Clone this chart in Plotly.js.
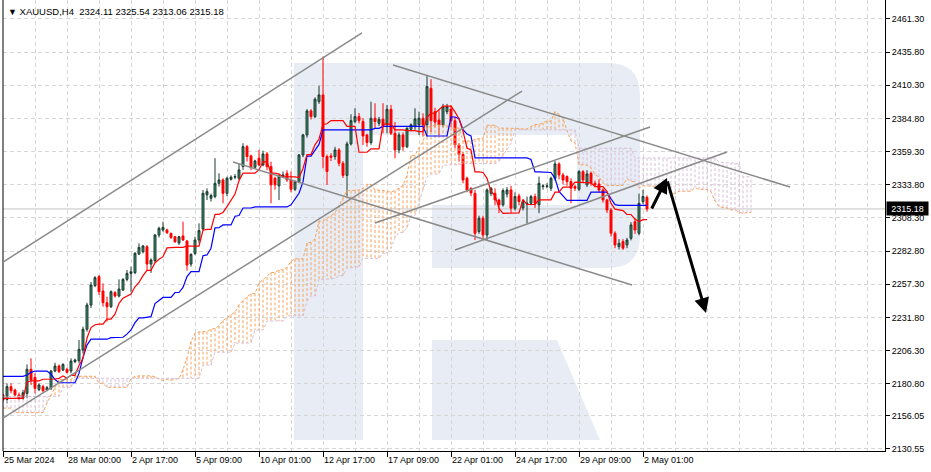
<!DOCTYPE html>
<html><head><meta charset="utf-8">
<script src="https://cdn.plot.ly/plotly-3.0.1.min.js"></script>
<style>body{margin:0;background:#fff}</style>
</head><body>
<div id="chart" style="width:931px;height:472px"></div>
<script>
// ---------------- DATA ----------------
const symbol = "XAUUSD,H4";
const xTickIdx = [0,16,32,48,64,80,96,112,128,144,160];
const xTickLabels = ["25 Mar 2024","28 Mar 00:00","2 Apr 17:00","5 Apr 09:00","10 Apr 01:00","12 Apr 17:00","17 Apr 09:00","22 Apr 01:00","24 Apr 17:00","29 Apr 09:00","2 May 01:00"];
const yTickVals = [2461.30,2435.80,2410.30,2384.80,2359.30,2333.80,2308.30,2282.80,2257.30,2231.80,2206.30,2180.80,2156.05,2130.55];
const yTickLabels = ["2461.30","2435.80","2410.30","2384.80","2359.30","2333.80","2308.30","2282.80","2257.30","2231.80","2206.30","2180.80","2156.05","2130.55"];

const openP = [
2172.1,2168.7,2178.5,2175.9,2172.1,2169.5,2173.3,2191.8,2185.6,2176.4,
2178.5,2175.9,2177.2,2190.5,2194.4,2191.3,2191.8,2190.5,2197.7,2198.5,
2206.7,2222.6,2241.3,2256.2,2263.1,2252.1,2243.1,2240.0,2250.8,2248.2,
2252.8,2261.0,2265.6,2266.2,2280.5,2282.3,2286.1,2272.8,2275.4,2295.1,
2299.0,2299.0,2296.4,2293.8,2289.0,2294.4,2290.5,2272.8,2281.0,2291.3,
2299.8,2326.0,2323.4,2324.7,2334.9,2337.5,2327.2,2338.0,2339.6,2338.8,
2347.8,2363.1,2356.0,2347.2,2354.2,2349.0,2357.5,2347.8,2338.8,2332.9,
2340.1,2342.6,2337.5,2330.3,2336.2,2356.7,2372.1,2390.6,2386.2,2397.8,
2402.9,2355.5,2356.0,2355.5,2360.6,2350.3,2341.0,2365.2,2382.4,2386.2,
2382.4,2372.1,2366.2,2384.9,2381.1,2384.2,2379.8,2391.8,2373.4,2360.6,
2372.1,2363.0,2376.5,2378.5,2380.0,2384.9,2380.0,2408.0,2390.0,2383.6,
2379.8,2390.0,2392.0,2383.0,2364.4,2357.0,2338.8,2331.0,2327.2,2297.8,
2308.0,2295.2,2327.2,2327.2,2322.1,2318.3,2326.7,2329.8,2315.7,2325.2,
2316.0,2319.0,2319.5,2324.7,2318.3,2332.4,2332.4,2331.1,2338.8,2349.8,
2341.3,2340.1,2336.2,2332.4,2330.3,2343.9,2333.7,2342.6,2334.9,2334.4,
2329.8,2322.1,2314.4,2296.5,2286.2,2290.1,2287.5,2292.6,2305.4,2296.5,
2320.8,2324.11];
const highP = [
2173.0,2181.0,2181.0,2177.0,2174.0,2176.0,2195.6,2200.3,2188.7,2181.0,
2180.0,2179.0,2191.3,2196.9,2195.5,2196.5,2193.0,2200.3,2200.0,2214.4,
2224.6,2243.0,2259.0,2263.5,2264.4,2257.9,2247.7,2252.5,2252.0,2261.0,
2262.0,2268.2,2270.8,2282.0,2288.7,2287.5,2287.4,2277.2,2296.0,2301.5,
2305.4,2300.0,2297.0,2294.5,2294.5,2305.4,2291.3,2281.0,2293.8,2304.1,
2329.8,2331.0,2327.0,2354.2,2342.6,2338.8,2340.0,2341.0,2342.0,2350.3,
2365.7,2364.4,2357.0,2353.0,2360.6,2360.0,2359.0,2351.6,2340.0,2342.0,
2344.0,2345.0,2344.0,2337.0,2357.5,2373.0,2392.0,2392.0,2401.0,2410.0,
2432.4,2357.0,2358.0,2363.0,2362.0,2352.0,2367.0,2388.0,2392.6,2389.0,
2385.0,2373.0,2397.7,2396.5,2386.0,2396.5,2395.2,2395.2,2382.0,2374.0,
2374.0,2378.0,2381.0,2392.6,2390.0,2388.8,2417.5,2415.0,2393.0,2391.0,
2396.0,2396.0,2395.0,2386.0,2366.0,2359.0,2340.0,2332.0,2329.8,2310.0,
2310.0,2331.0,2332.0,2331.0,2323.0,2331.0,2332.0,2333.0,2328.0,2327.0,
2322.0,2324.7,2326.0,2327.0,2340.1,2334.0,2335.0,2340.0,2352.0,2351.0,
2343.0,2341.0,2338.8,2334.0,2345.0,2345.0,2345.0,2344.0,2337.0,2338.0,
2331.0,2323.0,2316.0,2298.0,2292.0,2292.0,2293.0,2305.0,2308.0,2327.0,
2330.0,2325.54];
const lowP = [
2167.0,2165.6,2173.3,2171.0,2168.0,2168.5,2169.5,2179.8,2173.3,2175.0,
2174.0,2175.0,2175.9,2189.5,2189.0,2190.5,2188.7,2188.7,2196.5,2196.4,
2204.1,2220.8,2239.0,2255.0,2249.0,2240.0,2228.5,2239.0,2247.0,2247.2,
2252.0,2259.5,2251.5,2265.0,2279.7,2281.0,2268.0,2266.0,2274.0,2293.3,
2297.7,2296.0,2292.0,2289.0,2287.5,2290.5,2267.7,2270.8,2279.7,2288.7,
2299.0,2322.0,2320.8,2323.4,2332.4,2319.6,2325.0,2337.0,2338.0,2337.5,
2345.2,2351.6,2345.0,2346.0,2348.0,2348.0,2345.0,2319.6,2330.0,2322.0,
2339.0,2336.0,2328.0,2329.0,2335.0,2355.0,2370.0,2384.0,2385.0,2396.0,
2346.5,2333.7,2352.0,2353.0,2348.0,2339.0,2325.0,2364.0,2381.0,2381.0,
2364.4,2363.0,2364.5,2377.2,2379.0,2373.4,2373.4,2372.0,2354.2,2358.0,
2360.0,2362.0,2375.0,2376.0,2372.0,2370.8,2370.8,2374.0,2378.0,2372.0,
2378.0,2388.0,2378.0,2362.0,2351.6,2334.9,2328.0,2325.0,2291.3,2296.0,
2291.5,2291.3,2325.0,2318.0,2312.0,2317.0,2324.0,2312.0,2314.0,2318.0,
2314.0,2304.2,2318.0,2316.0,2311.9,2330.0,2331.0,2329.0,2337.0,2338.0,
2334.0,2333.0,2319.5,2329.0,2329.0,2335.0,2332.0,2333.0,2332.0,2328.0,
2320.0,2312.0,2294.0,2285.0,2284.0,2283.7,2285.0,2291.0,2296.0,2295.0,
2319.0,2313.06];
const closeP = [
2168.2,2178.5,2175.4,2172.1,2169.5,2173.8,2191.8,2183.6,2177.2,2179.8,
2175.4,2177.7,2190.5,2194.4,2190.0,2195.6,2189.5,2198.2,2199.0,2207.2,
2222.6,2241.3,2256.7,2262.3,2251.5,2243.1,2240.0,2251.5,2248.2,2253.6,
2261.0,2265.6,2266.9,2281.0,2285.6,2286.7,2272.8,2275.9,2295.1,2300.3,
2301.0,2296.9,2293.3,2290.0,2293.8,2291.3,2272.0,2280.3,2291.3,2298.5,
2327.2,2328.5,2325.5,2334.9,2337.5,2327.2,2338.8,2339.6,2340.1,2345.2,
2363.1,2355.5,2347.2,2352.1,2349.0,2357.5,2347.8,2333.7,2333.7,2340.6,
2341.3,2337.5,2330.3,2336.2,2356.7,2372.1,2390.6,2386.2,2399.6,2402.9,
2355.5,2344.0,2354.9,2360.6,2350.3,2341.0,2365.2,2383.1,2386.2,2383.1,
2371.3,2366.2,2384.9,2382.4,2384.2,2378.5,2391.8,2373.4,2360.6,2372.1,
2363.0,2377.2,2380.0,2384.5,2385.0,2379.8,2409.3,2383.0,2382.0,2379.8,
2393.9,2394.0,2383.0,2364.4,2357.0,2337.5,2329.8,2327.5,2296.5,2308.0,
2295.2,2329.8,2331.1,2322.1,2318.3,2329.3,2329.8,2315.7,2324.7,2320.8,
2320.8,2319.5,2324.7,2319.5,2334.9,2332.9,2332.9,2338.8,2349.8,2341.3,
2337.5,2336.2,2331.1,2331.1,2343.9,2337.5,2342.1,2334.9,2333.7,2329.8,
2322.1,2314.4,2296.5,2287.5,2288.8,2285.0,2291.3,2302.9,2299.0,2319.5,
2324.7,2315.18];

const tenkan = [
2169.5,2169.5,2169.5,2169.5,2169.5,2169.5,2182.0,2183.0,2183.0,2183.0,
2184.2,2184.2,2184.2,2184.4,2184.9,2186.8,2185.1,2187.2,2187.2,2194.7,
2200.3,2215.9,2223.9,2226.1,2226.6,2226.6,2230.4,2230.4,2234.3,2242.6,
2246.5,2248.4,2249.7,2255.3,2258.6,2263.9,2267.9,2268.0,2273.8,2276.5,
2278.5,2285.2,2285.7,2285.7,2285.7,2285.7,2286.6,2286.6,2286.6,2286.6,
2298.8,2299.4,2299.4,2311.0,2311.0,2312.5,2317.0,2321.5,2326.6,2336.9,
2342.7,2342.7,2342.7,2342.7,2345.4,2351.4,2351.6,2342.7,2342.7,2342.0,
2340.1,2340.1,2340.1,2339.8,2339.3,2346.3,2357.0,2357.0,2364.5,2369.0,
2380.2,2380.7,2383.1,2383.1,2383.1,2383.1,2378.7,2378.7,2378.7,2358.8,
2358.8,2358.8,2361.4,2361.4,2361.4,2380.4,2380.4,2380.4,2376.0,2376.0,
2376.0,2375.4,2375.4,2375.4,2374.7,2374.7,2385.9,2388.8,2388.8,2391.8,
2394.2,2394.2,2394.2,2389.8,2384.6,2375.0,2362.0,2360.5,2343.7,2343.7,
2343.2,2338.7,2328.7,2325.2,2315.7,2311.7,2311.7,2312.2,2312.2,2312.2,
2322.5,2318.6,2318.6,2318.6,2322.2,2322.2,2322.2,2322.2,2328.1,2328.1,
2332.0,2332.0,2332.0,2335.8,2335.8,2335.8,2335.8,2335.3,2332.3,2332.3,
2332.3,2328.5,2319.5,2315.0,2314.5,2313.9,2310.9,2310.9,2307.4,2305.4,
2306.9,2306.9];
const kijun = [
2186.4,2186.4,2186.4,2186.4,2186.4,2186.4,2187.5,2189.5,2190.5,2190.5,
2190.5,2190.5,2188.0,2184.0,2181.5,2181.5,2181.5,2181.5,2181.5,2188.7,
2201.0,2210.5,2215.0,2215.0,2215.0,2215.0,2215.0,2216.2,2216.2,2216.2,
2216.5,2218.9,2222.1,2227.7,2231.4,2231.4,2231.9,2232.3,2242.4,2245.1,
2247.1,2247.1,2247.1,2250.9,2250.9,2254.8,2263.1,2267.0,2267.0,2267.0,
2279.2,2279.8,2285.0,2300.6,2300.7,2302.9,2302.9,2302.9,2309.6,2310.1,
2315.9,2315.9,2315.9,2316.7,2316.7,2316.7,2316.7,2316.7,2316.7,2316.7,
2316.7,2316.7,2318.3,2322.7,2327.2,2336.0,2355.8,2355.8,2360.3,2364.8,
2376.0,2376.0,2376.0,2376.0,2376.0,2376.0,2376.0,2376.0,2376.0,2376.0,
2376.0,2376.0,2376.0,2377.2,2377.2,2378.7,2378.7,2378.7,2378.7,2378.7,
2378.7,2378.7,2378.7,2378.7,2378.7,2378.7,2371.3,2371.3,2371.3,2371.3,
2371.3,2371.3,2385.9,2385.9,2384.6,2376.2,2372.8,2371.3,2354.4,2354.4,
2354.4,2354.4,2354.4,2354.4,2354.4,2354.4,2354.4,2354.4,2354.4,2354.4,
2354.4,2354.4,2353.2,2343.7,2343.7,2343.7,2343.7,2343.2,2338.7,2328.7,
2325.2,2321.7,2321.7,2321.7,2321.7,2321.7,2321.7,2328.1,2328.1,2328.1,
2328.1,2328.1,2323.0,2318.5,2318.0,2317.9,2317.9,2317.9,2317.9,2317.9,
2317.9,2317.9];

const spanA = [
2162.0,2162.0,2162.0,2158.5,2158.5,2158.5,2158.5,2158.5,2158.5,2158.5,
2158.5,2166.0,2172.0,2178.0,2184.0,2184.0,2184.0,2184.0,2186.5,2186.5,
2186.5,2186.5,2186.5,2186.5,2181.0,2181.0,2178.0,2178.0,2178.0,2178.0,
2178.0,2178.0,2184.8,2186.3,2186.8,2186.8,2186.8,2186.8,2186.1,2184.2,
2183.2,2184.2,2183.3,2184.4,2184.4,2191.7,2200.7,2213.2,2219.5,2220.6,
2220.8,2220.8,2222.7,2223.3,2225.3,2229.4,2231.5,2233.7,2235.9,2241.5,
2245.0,2247.7,2249.9,2250.2,2258.1,2260.8,2262.8,2266.2,2266.4,2268.3,
2268.3,2270.3,2274.9,2276.8,2276.8,2276.8,2289.0,2289.6,2292.2,2305.8,
2305.9,2307.7,2310.0,2312.2,2318.1,2323.5,2329.3,2329.3,2329.3,2329.7,
2331.1,2334.1,2334.2,2329.7,2329.7,2329.4,2328.4,2328.4,2329.2,2331.3,
2333.3,2341.2,2356.4,2356.4,2362.4,2366.9,2378.1,2378.4,2379.6,2379.6,
2379.6,2379.6,2377.4,2377.4,2377.4,2367.4,2367.4,2367.4,2368.7,2369.3,
2369.3,2379.6,2379.6,2379.6,2377.4,2377.4,2377.4,2377.1,2377.1,2377.1,
2376.7,2376.7,2378.6,2380.1,2380.1,2381.6,2382.8,2382.8,2390.1,2387.9,
2384.6,2375.6,2367.4,2365.9,2349.1,2349.1,2348.8,2346.6,2341.6,2339.8,
2335.1,2333.1,2333.1,2333.3,2333.3,2333.3,2338.5,2336.5,2335.9,2331.2,
2333.0,2333.0,2333.0,2332.7,2333.4,2328.4,2328.6,2326.9,2326.9,2328.8,
2328.8,2328.8,2328.8,2331.7,2330.2,2330.2,2330.2,2328.3,2321.3,2316.8,
2316.3,2315.9,2314.4,2314.4,2312.7,2311.7,2312.4,2312.4];
const spanB = [
2171.0,2171.0,2171.0,2171.0,2171.0,2171.0,2171.0,2171.0,2171.0,2171.0,
2171.0,2171.0,2171.0,2171.0,2171.0,2178.0,2178.0,2178.0,2184.9,2184.9,
2184.9,2184.9,2184.9,2184.9,2184.9,2184.9,2184.9,2184.9,2184.9,2184.9,
2184.9,2184.9,2184.9,2184.9,2184.9,2184.9,2184.9,2184.9,2184.9,2184.9,
2184.9,2184.9,2184.9,2184.9,2184.9,2184.9,2184.9,2184.9,2184.9,2184.9,
2195.0,2195.0,2195.0,2205.0,2205.0,2205.0,2205.0,2205.0,2212.0,2212.0,
2212.0,2212.0,2212.0,2222.0,2222.0,2222.0,2229.0,2229.0,2229.0,2229.0,
2229.0,2233.0,2233.0,2233.0,2233.0,2233.0,2244.0,2248.3,2248.3,2261.1,
2261.1,2261.1,2261.4,2261.9,2263.8,2263.8,2269.9,2269.9,2270.4,2270.8,
2277.2,2277.2,2277.2,2277.2,2277.2,2281.1,2281.1,2284.9,2293.3,2297.1,
2297.1,2300.8,2310.3,2310.3,2320.0,2328.5,2339.8,2342.0,2342.0,2342.0,
2348.7,2349.2,2349.2,2349.2,2349.2,2350.1,2350.1,2350.1,2350.1,2350.1,
2350.1,2350.1,2350.1,2350.1,2351.6,2356.1,2360.6,2365.7,2376.0,2376.0,
2376.0,2376.0,2376.0,2376.0,2376.0,2376.0,2376.0,2376.0,2376.0,2376.0,
2376.0,2376.0,2376.0,2376.0,2361.9,2361.9,2361.9,2361.9,2361.9,2361.9,
2361.9,2361.9,2361.9,2361.9,2361.9,2361.9,2361.9,2361.9,2354.4,2354.4,
2354.4,2354.4,2354.4,2354.4,2354.4,2354.4,2354.4,2354.4,2354.4,2354.4,
2354.4,2354.4,2354.4,2354.4,2354.4,2354.4,2354.4,2354.4,2354.4,2351.3,
2350.8,2350.6,2350.6,2350.6,2349.4,2339.9,2339.9,2339.9];

// trend lines: [barFrom, priceFrom, barTo, priceTo]
const trendLines = [
  [0, 2274.3, 89.75, 2450.6],
  [0, 2154.3, 129.75, 2405.9],
  [97.5, 2425.9, 196.75, 2332.1],
  [57.5, 2351.3, 157.25, 2256.7],
  [93, 2304.4, 161.75, 2378.2],
  [113, 2283.6, 181, 2359.0]
];
// arrows: [tailBar, tailPrice, headBar, headPrice]
const arrows = [
  [162.0, 2314.4, 166.0, 2339.0],
  [166.0, 2337.5, 175.75, 2235.2]
];

// ---------------- DRAWING ----------------
const FONT = "'Liberation Sans', Arial, sans-serif";
const FS = 9;
const idx = openP.map((_, i) => i);
const cIdx = spanA.map((_, i) => i);
const last = closeP.length - 1;

const upX = [], upY = [], dnX = [], dnY = [];
for (let i = 0; i < spanA.length; i++) {
  const a = spanA[i], b = spanB[i];
  if (a > b) { upX.push(i, i, null); upY.push(a, b, null); }
  else if (b > a) { dnX.push(i, i, null); dnY.push(a, b, null); }
}
const ORANGE = '#f4a460', THISTLE = '#d8bfd8';

const traces = [
  {type:'scatter', mode:'lines', x:upX, y:upY, line:{color:ORANGE, width:1, dash:'3px,2px'}, hoverinfo:'skip'},
  {type:'scatter', mode:'lines', x:dnX, y:dnY, line:{color:THISTLE, width:1, dash:'3px,2px'}, hoverinfo:'skip'},
  {type:'scatter', mode:'lines', x:cIdx, y:spanA, line:{color:ORANGE, width:1, dash:'3px,2px'}, hoverinfo:'skip'},
  {type:'scatter', mode:'lines', x:cIdx, y:spanB, line:{color:THISTLE, width:1, dash:'3px,2px'}, hoverinfo:'skip'},
  {type:'candlestick', x:idx, open:openP, high:highP, low:lowP, close:closeP,
   increasing:{line:{color:'#1b3b2f', width:1}, fillcolor:'#3b8c69'},
   decreasing:{line:{color:'#ff0000', width:1}, fillcolor:'#ff0000'},
   whiskerwidth:0, hoverinfo:'skip'},
  {type:'scatter', mode:'lines', x:idx, y:kijun, line:{color:'#0000ff', width:1.2}, hoverinfo:'skip'},
  {type:'scatter', mode:'lines', x:idx, y:tenkan, line:{color:'#ff0000', width:1.2}, hoverinfo:'skip'}
];

// pixel -> paper helpers for the background watermark (decoration only)
const PL = 3, PR = 885, PT = 0, PB = 451;
const X = px => ((px - PL) / (PR - PL)).toFixed(4);
const Y = py => ((PB - py) / (PB - PT)).toFixed(4);
const WM = '#e8edf5';
const shapes = [
  {type:'rect', xref:'paper', yref:'paper', x0:X(294), x1:X(363), y0:Y(440), y1:Y(63), fillcolor:WM, line:{width:0}, layer:'below'},
  {type:'path', xref:'paper', yref:'paper', layer:'below', fillcolor:WM, line:{width:0},
   path:`M ${X(294)},${Y(63)} L ${X(608)},${Y(63)} Q ${X(640)},${Y(63)} ${X(640)},${Y(95)} L ${X(640)},${Y(236)} Q ${X(640)},${Y(268)} ${X(608)},${Y(268)} L ${X(432)},${Y(268)} L ${X(432)},${Y(205)} L ${X(577)},${Y(205)} L ${X(577)},${Y(135)} L ${X(294)},${Y(135)} Z`},
  {type:'path', xref:'paper', yref:'paper', layer:'below', fillcolor:WM, line:{width:0},
   path:`M ${X(432)},${Y(340)} L ${X(557)},${Y(340)} L ${X(600)},${Y(440)} L ${X(432)},${Y(440)} Z`},
  {type:'line', xref:'paper', yref:'y', x0:0, x1:1, y0:closeP[last], y1:closeP[last], line:{color:'#c4c4c4', width:1}, layer:'between'},
  {type:'line', xref:'paper', yref:'paper', x0:0, x1:0, y0:0, y1:1, line:{color:'#000', width:1}, layer:'above'}
];
trendLines.forEach(t => shapes.push({type:'line', xref:'x', yref:'y', x0:t[0], y0:t[1], x1:t[2], y1:t[3], line:{color:'#8a8a8a', width:1.5}, layer:'above'}));

const fmt = v => v.toFixed(2);
const annotations = [
  {xref:'paper', yref:'paper', x:0, y:1, xanchor:'left', yanchor:'top', xshift:3, yshift:-4, showarrow:false, align:'left',
   text:`<span style="font-size:9px">\u25BC</span> ${symbol}\u00a0\u00a0${fmt(openP[last])} ${fmt(highP[last])} ${fmt(lowP[last])} ${fmt(closeP[last])}`,
   font:{family:FONT, size:9.5, color:'#000'}},
  {xref:'paper', yref:'y', x:1, y:closeP[last], xanchor:'left', yanchor:'middle', xshift:1, showarrow:false,
   text:fmt(closeP[last]), bgcolor:'#000', borderpad:1, width:39, height:11, font:{family:FONT, size:FS, color:'#fff'}}
];
arrows.forEach(a => annotations.push({xref:'x', yref:'y', axref:'x', ayref:'y', x:a[2], y:a[3], ax:a[0], ay:a[1], text:'', showarrow:true,
   arrowhead:2, arrowsize:1, arrowwidth:3, arrowcolor:'#000', standoff:0, startstandoff:0}));

const GRID = '#d6d6d6';
const layout = {
  width:931, height:472, autosize:false,
  margin:{l:PL, r:931-PR, t:PT, b:472-PB},
  paper_bgcolor:'#fff', plot_bgcolor:'#fff',
  showlegend:false, hovermode:false, dragmode:false,
  xaxis:{
    range:[0, 220.5], type:'linear', fixedrange:true, zeroline:false,
    rangeslider:{visible:false},
    tickmode:'array', tickvals:xTickIdx, ticktext:xTickLabels, tickangle:0,
    ticks:'outside', ticklen:5, tickcolor:'#000', ticklabelposition:'outside right',
    tickfont:{family:FONT, size:FS, color:'#000'},
    showline:true, linecolor:'#000', linewidth:1,
    showgrid:true, gridcolor:GRID, griddash:'4px,3px', gridwidth:1,
    minor:{tickmode:'linear', tick0:0, dtick:8, showgrid:true, gridcolor:GRID, griddash:'4px,3px', gridwidth:1, ticks:''}
  },
  yaxis:{
    range:[2129.0, 2475.9], side:'right', fixedrange:true, zeroline:false,
    tickmode:'array', tickvals:yTickVals, ticktext:yTickLabels,
    ticks:'outside', ticklen:4, tickcolor:'#000',
    tickfont:{family:FONT, size:FS, color:'#000'},
    showline:true, linecolor:'#000', linewidth:1,
    showgrid:true, gridcolor:GRID, griddash:'4px,3px', gridwidth:1
  },
  shapes:shapes, annotations:annotations
};

Plotly.newPlot('chart', traces, layout, {staticPlot:true, displayModeBar:false});
</script>
</body></html>
